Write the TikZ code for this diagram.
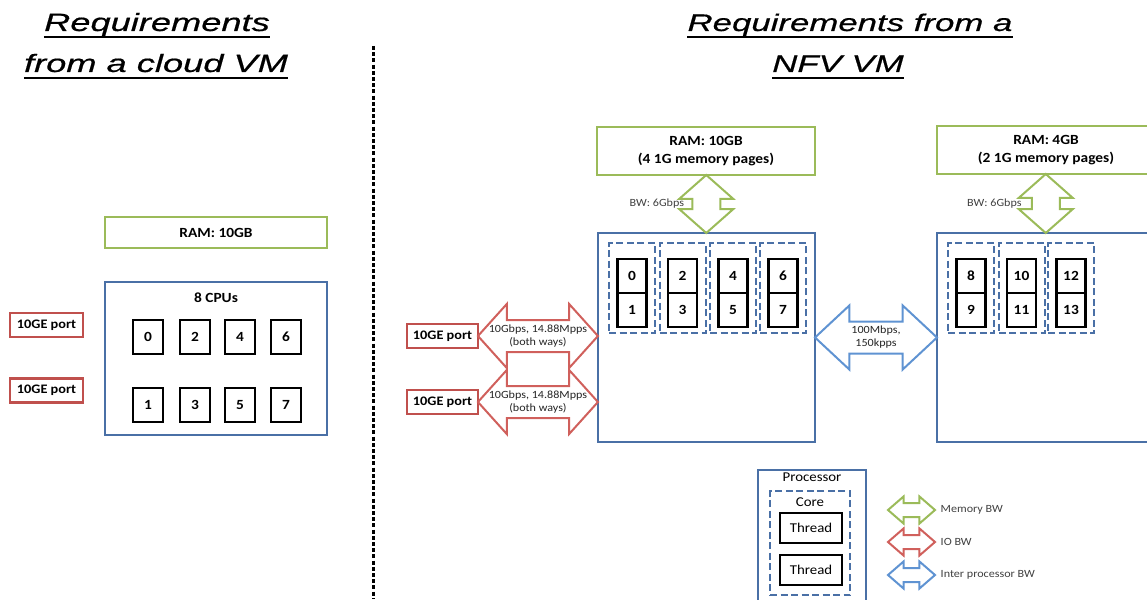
\documentclass[tikz,border=0pt]{standalone}
\usepackage{fontspec}
\setmainfont[FakeStretch=1.1]{Carlito}
\newfontfamily\titlefont[FakeStretch=1.45,FakeBold=0.6]{Liberation Sans}
\usetikzlibrary{shapes.arrows,calc}
\definecolor{ramgreen}{HTML}{9BBB59}
\definecolor{boxblue}{HTML}{4A70A6}
\definecolor{portred}{HTML}{C0504D}
\definecolor{iored}{HTML}{D0605C}
\definecolor{linkblue}{HTML}{5F93D2}

\begin{document}
\begin{tikzpicture}[x=1pt,y=-1pt,
  heading/.style={font=\titlefont\itshape\fontsize{24}{28}\selectfont,anchor=base,inner sep=0pt},
  rambox/.style={draw=ramgreen,line width=2.6pt,fill=white,inner sep=0pt,align=center,font=\bfseries\fontsize{14}{18}\selectfont},
  procbox/.style={draw=boxblue,line width=2.6pt,inner sep=0pt},
  portbox/.style={draw=portred,line width=2.4pt,fill=white,inner sep=0pt,minimum height=24pt,font=\bfseries\fontsize{13}{15}\selectfont},
  cpubox/.style={draw,line width=2.6pt,fill=white,inner sep=0pt,minimum width=30pt,minimum height=34pt,font=\bfseries\fontsize{14}{16}\selectfont},
  threadbox/.style={cpubox,minimum width=29pt},
  corebox/.style={draw=boxblue,line width=2pt,dash pattern=on 7pt off 3.5pt,inner sep=0pt,minimum width=46pt,minimum height=90pt},
  dblarrow/.style={double arrow,line width=2pt,fill=white,inner xsep=0pt,minimum width=0pt},
  memarrow/.style={dblarrow,draw=ramgreen,inner ysep=13pt,double arrow head extend=13pt,double arrow tip angle=97,rotate=90},
  ioarrow/.style={dblarrow,draw=iored,inner ysep=15pt,double arrow head extend=16pt,double arrow tip angle=96},
  linkarrow/.style={dblarrow,draw=linkblue,inner ysep=15pt,double arrow head extend=16pt,double arrow tip angle=86},
  legarrow/.style={dblarrow,inner ysep=6pt,minimum height=47pt,double arrow head extend=6.5pt,double arrow tip angle=82},
  smalltext/.style={inner sep=0pt,text=black!75,font=\fontsize{11}{12}\selectfont},
  arrowtext/.style={inner sep=0pt,align=center,text=black!85,font=\fontsize{11}{13}\selectfont},
  legtext/.style={inner sep=0pt,font=\fontsize{13.5}{15}\selectfont}]
\useasboundingbox (0,0) rectangle (1147,599);

% headings
\node[heading,font=\titlefont\itshape\fontsize{25}{29}\selectfont] (hl1) at (157,31) {Requirements};
\node[heading,font=\titlefont\itshape\fontsize{25}{29}\selectfont] (hl2) at (156,72) {from a cloud VM};
\node[heading] (hr1) at (850,31) {Requirements from a};
\node[heading] (hr2) at (838,72) {NFV VM};
\draw[line width=2.6pt] ([yshift=-6pt]hl1.base west) -- ([yshift=-6pt]hl1.base east);
\draw[line width=2.6pt] ([yshift=-6pt]hl2.base west) -- ([yshift=-6pt]hl2.base east);
\draw[line width=2.6pt] ([yshift=-6pt]hr1.base west) -- ([yshift=-6pt]hr1.base east);
\draw[line width=2.6pt] ([yshift=-6pt]hr2.base west) -- ([yshift=-6pt]hr2.base east);

% divider
\coordinate (dtop) at (373,46);
\coordinate (dbot) at (373,599);
\draw[line width=3pt,dash pattern=on 4pt off 2.2pt] (dtop) -- (dbot);

% cloud VM
\node[rambox,minimum width=222pt,minimum height=31pt] (ram0) at (216,232.5) {RAM: 10GB};
\node[procbox,minimum width=222pt,minimum height=153pt] (cpus) at (216,358.5) {};
\node[inner sep=0pt,font=\bfseries\fontsize{14}{16}\selectfont] (cpuslbl) at (216,298) {8 CPUs};
\node[cpubox] (c0) at (148,337) {0};
\node[cpubox] (c2) at (195,337) {2};
\node[cpubox] (c4) at (240,337) {4};
\node[cpubox] (c6) at (286,337) {6};
\node[cpubox] (c1) at (148,405) {1};
\node[cpubox] (c3) at (195,405) {3};
\node[cpubox] (c5) at (240,405) {5};
\node[cpubox] (c7) at (286,405) {7};
\node[portbox,minimum width=73pt] (lp1) at (46.5,325) {10GE port};
\node[portbox,minimum width=73pt] (lp2) at (46.5,390.5) {10GE port};

% NFV VM
\node[rambox,minimum width=218pt,minimum height=48pt] (ram1) at (706,151) {RAM: 10GB\\(4 1G memory pages)};
\node[rambox,minimum width=218pt,minimum height=48pt] (ram2) at (1046,150) {RAM: 4GB\\(2 1G memory pages)};
\node[procbox,minimum width=217pt,minimum height=209pt] (proc1) at (706.5,337.5) {};
\node[procbox,minimum width=217pt,minimum height=209pt] (proc2) at (1045.5,337.5) {};
\node[memarrow,minimum height=58pt] (mem1) at ($(ram1.south)!.5!(proc1.north)$) {};
\node[memarrow,minimum height=59pt] (mem2) at ($(ram2.south)!.5!(proc2.north)$) {};
\node[smalltext,anchor=east] (bw1) at ([xshift=-22pt]mem1.center) {BW: 6Gbps};
\node[smalltext,anchor=east] (bw2) at ([xshift=-24pt]mem2.center) {BW: 6Gbps};

\node[corebox] (k0) at (632,288) {};
\node[corebox] (k1) at (682.5,288) {};
\node[corebox] (k2) at (733,288) {};
\node[corebox] (k3) at (783,288) {};
\node[threadbox] (t0) at (632,276) {0};
\node[threadbox] (t1) at (632,310) {1};
\node[threadbox] (t2) at (682.5,276) {2};
\node[threadbox] (t3) at (682.5,310) {3};
\node[threadbox] (t4) at (733,276) {4};
\node[threadbox] (t5) at (733,310) {5};
\node[threadbox] (t6) at (783,276) {6};
\node[threadbox] (t7) at (783,310) {7};

\node[corebox] (k4) at (971,288) {};
\node[corebox] (k5) at (1021.5,288) {};
\node[corebox] (k6) at (1071,288) {};
\node[threadbox] (t8) at (971,276) {8};
\node[threadbox] (t9) at (971,310) {9};
\node[threadbox] (t10) at (1021.5,276) {10};
\node[threadbox] (t11) at (1021.5,310) {11};
\node[threadbox] (t12) at (1071,276) {12};
\node[threadbox] (t13) at (1071,310) {13};

\node[portbox,minimum width=71pt] (rp1) at (442.5,336) {10GE port};
\node[portbox,minimum width=71pt] (rp2) at (442.5,402) {10GE port};
\node[ioarrow,minimum height=120pt] (io1) at ($(rp1.east)!.5!(proc1.west |- rp1.east)$) {};
\node[ioarrow,minimum height=120pt] (io2) at ($(rp2.east)!.5!(proc1.west |- rp2.east)$) {};
\node[arrowtext] (io1txt) at (io1.center) {10Gbps, 14.88Mpps\\(both ways)};
\node[arrowtext] (io2txt) at (io2.center) {10Gbps, 14.88Mpps\\(both ways)};
\node[linkarrow,minimum height=122pt] (link) at ($(proc1.east)!.5!(proc2.west)$) {};
\node[arrowtext] (linktxt) at (link.center) {100Mbps,\\150kpps};

% legend
\node[legtext] (lgproclbl) at (812,477) {Processor};
\node[procbox,minimum width=108pt,minimum height=142pt] (lgproc) at (812,541) {};
\node[corebox,minimum width=80pt,minimum height=104pt] (lgcore) at (810,543) {};
\node[legtext] (lgcorelbl) at (810,502) {Core};
\node[threadbox,minimum width=62pt,minimum height=30pt,font=\fontsize{13.5}{15}\selectfont] (lgt1) at (811,528) {Thread};
\node[threadbox,minimum width=62pt,minimum height=30pt,font=\fontsize{13.5}{15}\selectfont] (lgt2) at (811,570) {Thread};
\node[legarrow,draw=ramgreen] (lgmem) at (911.5,510) {};
\node[legarrow,draw=iored] (lgio) at (911.5,542) {};
\node[legarrow,draw=linkblue] (lglink) at (911.5,575) {};
\node[smalltext,anchor=west] (lgmemtxt) at ([xshift=4pt]lgmem.east) {Memory BW};
\node[smalltext,anchor=west] (lgiotxt) at ([xshift=4pt]lgio.east) {IO BW};
\node[smalltext,anchor=west] (lglinktxt) at ([xshift=4pt]lglink.east) {Inter processor BW};
\end{tikzpicture}
\end{document}
